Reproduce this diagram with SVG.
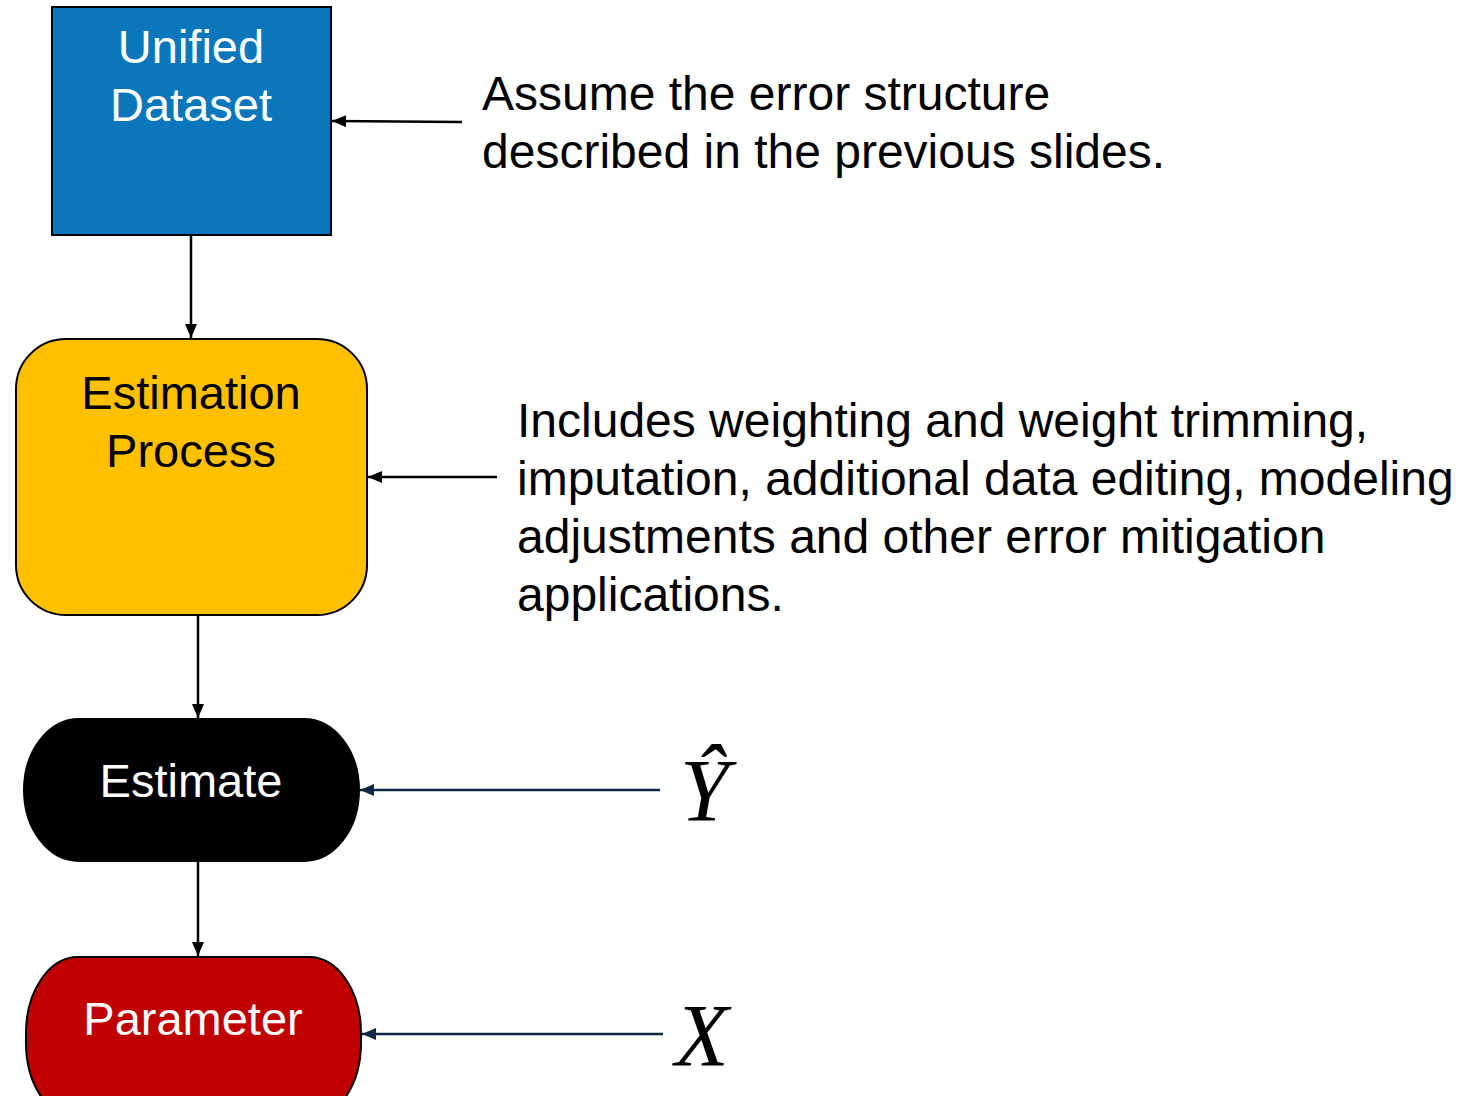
<svg xmlns="http://www.w3.org/2000/svg" width="1478" height="1096" viewBox="0 0 1478 1096">
<style>
.box{stroke:#000;stroke-width:2}
.lbl{font-family:"Liberation Sans",Arial,sans-serif;font-size:47px;text-anchor:middle}
.note{font-family:"Liberation Sans",Arial,sans-serif;font-size:48px;fill:#000}
.math{font-family:"Liberation Serif","Times New Roman",serif;font-style:italic;fill:#000}
.c{fill:none;stroke:#000;stroke-width:2.5}
.n{fill:none;stroke:#0E2841;stroke-width:2.5}
</style>
<defs>
<marker id="ah" viewBox="0 0 14 12" refX="14" refY="6" markerWidth="14" markerHeight="12" markerUnits="userSpaceOnUse" orient="auto"><path d="M0,0 L14,6 L0,12 Z" fill="#000"/></marker>
<marker id="ahn" viewBox="0 0 14 12" refX="14" refY="6" markerWidth="14" markerHeight="12" markerUnits="userSpaceOnUse" orient="auto"><path d="M0,0 L14,6 L0,12 Z" fill="#0E2841"/></marker>
</defs>
<rect width="1478" height="1096" fill="#fff"/>
<g id="unified">
<rect class="box" x="52" y="7" width="279" height="228" fill="#0A77BD"/>
<text class="lbl" x="191" y="63" fill="#fff">Unified</text>
<text class="lbl" x="191" y="121" fill="#fff">Dataset</text>
</g>
<g id="estimation">
<rect class="box" x="16" y="339" width="351" height="276" rx="50" ry="50" fill="#FFC000"/>
<text class="lbl" x="191" y="409" fill="#000">Estimation</text>
<text class="lbl" x="191" y="467" fill="#000">Process</text>
</g>
<g id="estimate">
<rect class="box" x="24" y="719" width="335" height="142" rx="55" ry="71" fill="#000"/>
<text class="lbl" x="191" y="797" fill="#fff">Estimate</text>
</g>
<g id="parameter">
<rect class="box" x="26" y="957" width="335" height="162" rx="52" ry="76" fill="#C00000"/>
<text class="lbl" x="193" y="1035" fill="#fff">Parameter</text>
</g>
<g id="note1">
<text class="note" x="482" y="110">Assume the error structure</text>
<text class="note" x="482" y="168">described in the previous slides.</text>
</g>
<g id="note2">
<text class="note" x="517" y="437">Includes weighting and weight trimming,</text>
<text class="note" x="517" y="495">imputation, additional data editing, modeling</text>
<text class="note" x="517" y="553">adjustments and other error mitigation</text>
<text class="note" x="517" y="611">applications.</text>
</g>
<g id="yhat">
<text class="math" x="680" y="820" font-size="88">Ŷ</text>
</g>
<g id="xsym">
<text class="math" x="675" y="1065" font-size="88">X</text>
</g>
<g id="connectors">
<line class="c" x1="191" y1="236" x2="191" y2="338" marker-end="url(#ah)"/>
<line class="c" x1="198" y1="616" x2="198" y2="718" marker-end="url(#ah)"/>
<line class="c" x1="198" y1="862" x2="198" y2="956" marker-end="url(#ah)"/>
<line class="c" x1="462" y1="122" x2="332" y2="121" marker-end="url(#ah)"/>
<line class="c" x1="497" y1="477" x2="368" y2="477" marker-end="url(#ah)"/>
<line class="n" x1="660" y1="790" x2="360" y2="790" marker-end="url(#ahn)"/>
<line class="n" x1="663" y1="1034" x2="362" y2="1034" marker-end="url(#ahn)"/>
</g>
</svg>
